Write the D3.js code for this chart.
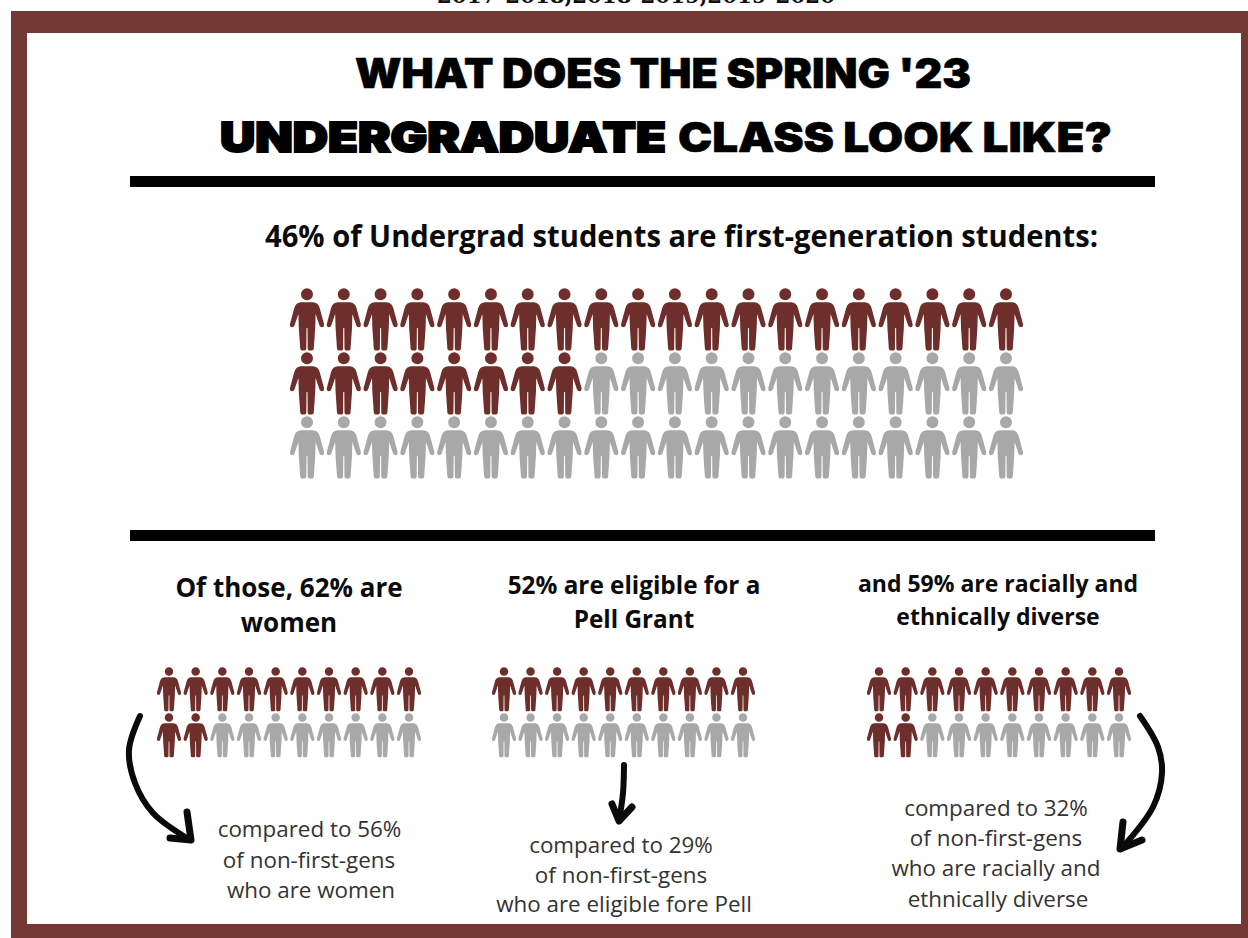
<!DOCTYPE html>
<html>
<head>
<meta charset="utf-8">
<script src="https://cdn.jsdelivr.net/npm/d3@7/dist/d3.min.js"></script>
<style>
  html, body { margin: 0; padding: 0; background: #fff; }
  svg { display: block; }
</style>
</head>
<body>
<svg id="chart" width="1248" height="938"></svg>
<script>
// values
const mainTotal = 60;
const mainFilled = 28;
const womenFilled = 12;
const pellFilled = 10;
const diverseFilled = 12;
const smallTotal = 20;

const cutOffText = "2017-2018,2018-2019,2019-2020";
const titleTop = "WHAT DOES THE SPRING '23";
const titleBold = "UNDERGRADUATE";
const titleRest = "CLASS LOOK LIKE?";
const mainHeading = "46% of Undergrad students are first-generation students:";
const womenHeading = ["Of those, 62% are", "women"];
const pellHeading = ["52% are eligible for a", "Pell Grant"];
const diverseHeading = ["and 59% are racially and", "ethnically diverse"];
const womenNote = ["compared to 56%", "of non-first-gens", "who are women"];
const pellNote = ["compared to 29%", "of non-first-gens", "who are eligible fore Pell"];
const diverseNote = ["compared to 32%", "of non-first-gens", "who are racially and", "ethnically diverse"];

const maroon = "#6e2e2b";
const grey = "#a8a8a8";
const frame = "#733935";

const svg = d3.select("#chart");

// frame
svg.append("rect").attr("x", 11).attr("y", 11).attr("width", 1237).attr("height", 927).attr("fill", frame);
svg.append("rect").attr("x", 27).attr("y", 33).attr("width", 1214).attr("height", 891).attr("fill", "#fff");

// this line is cut by the top edge in the original too
svg.append("text").text(cutOffText)
  .attr("x", 437).attr("y", 3)
  .attr("textLength", 398).attr("lengthAdjust", "spacingAndGlyphs")
  .attr("font-family", "'DejaVu Serif'").attr("font-weight", 700).attr("font-size", 21).attr("fill", "#111");

// title
function titleText(str, x, y, width, stroke) {
  svg.append("text").text(str)
    .attr("x", x).attr("y", y)
    .attr("textLength", width).attr("lengthAdjust", "spacingAndGlyphs")
    .attr("font-family", "Inter, Roboto").attr("font-weight", 900).attr("font-size", 41)
    .attr("stroke", "#000").attr("stroke-width", stroke).attr("fill", "#000");
}
titleText(titleTop, 355, 87.5, 616, 0.6);
titleText(titleBold, 220, 152, 446, 2);
titleText(titleRest, 678, 152, 434, 0.6);

// rules
[176, 530].forEach(y => {
  svg.append("rect").attr("x", 130).attr("y", y).attr("width", 1025).attr("height", 11).attr("fill", "#000");
});

svg.append("text").text(mainHeading)
  .attr("x", 265).attr("y", 247)
  .attr("textLength", 833).attr("lengthAdjust", "spacingAndGlyphs")
  .attr("font-family", "'Open Sans'").attr("font-weight", 700).attr("font-size", 30).attr("fill", "#0b0b0b");

// person icon, 34 wide and 63 tall, origin top centre
const personPath =
  "M-6,14.3 L6,14.3 Q11,14.5 12.7,20 L17,36 Q17.5,39 15,39.3 Q13,39.3 12.5,37.5 L8.6,26 " +
  "L8.2,40 L6.8,60.5 Q6.6,62.4 5,62.4 L2.2,62.4 Q0.8,62.4 0.7,60.5 L0.5,40 L-0.5,40 L-0.7,60.5 Q-0.8,62.4 -2.2,62.4 L-5,62.4 " +
  "Q-6.6,62.4 -6.8,60.5 L-8.2,40 L-8.6,26 L-12.5,37.5 Q-13,39.3 -15,39.3 Q-17.5,39 -17,36 L-12.7,20 Q-11,14.5 -6,14.3 Z " +
  "M6,6.2 A6,6 0 1 1 -6,6.2 A6,6 0 1 1 6,6.2 Z";

// draws one waffle of people, row by row
function drawPeople(opts) {
  const perRow = opts.total / opts.rows;
  const x = d3.scalePoint().domain(d3.range(perRow)).range([opts.x0, opts.x1]);
  const y = d3.scalePoint().domain(d3.range(opts.rows)).range([opts.y0, opts.y1]);
  svg.append("g").selectAll("path")
    .data(d3.range(opts.total))
    .join("path")
    .attr("d", personPath)
    .attr("transform", i => `translate(${x(i % perRow)},${y(Math.floor(i / perRow))}) scale(${opts.scale})`)
    .attr("fill", i => i < opts.filled ? maroon : grey);
}

drawPeople({ total: mainTotal, rows: 3, filled: mainFilled, x0: 307, x1: 1006, y0: 288, y1: 416, scale: 1 });
drawPeople({ total: smallTotal, rows: 2, filled: womenFilled, x0: 169, x1: 409, y0: 667, y1: 713, scale: 0.71 });
drawPeople({ total: smallTotal, rows: 2, filled: pellFilled, x0: 504, x1: 743, y0: 667, y1: 713, scale: 0.71 });
drawPeople({ total: smallTotal, rows: 2, filled: diverseFilled, x0: 879, x1: 1119, y0: 667, y1: 713, scale: 0.71 });

function drawLines(lines, items) {
  lines.forEach((line, i) => {
    svg.append("text").text(line)
      .attr("x", items.x[i]).attr("y", items.y[i]).attr("text-anchor", "middle")
      .attr("font-family", "'Open Sans'").attr("font-weight", items.weight).attr("font-size", items.size)
      .attr("fill", items.color);
  });
}

drawLines(womenHeading, { x: [289, 289], y: [597, 632], size: 26, weight: 700, color: "#0b0b0b" });
drawLines(pellHeading, { x: [634, 634], y: [594, 628], size: 24.3, weight: 700, color: "#0b0b0b" });
drawLines(diverseHeading, { x: [998, 998], y: [592, 625], size: 23, weight: 700, color: "#0b0b0b" });

drawLines(womenNote, { x: [309.5, 309, 311], y: [837, 868, 898], size: 22.4, weight: 400, color: "#333" });
drawLines(pellNote, { x: [621, 621, 624], y: [853, 883, 912], size: 22.4, weight: 400, color: "#333" });
drawLines(diverseNote, { x: [996, 996, 996, 998], y: [816, 846, 876, 907], size: 22.4, weight: 400, color: "#333" });

// hand drawn arrows
const arrowLine = d3.line().curve(d3.curveCatmullRom);
function drawArrow(shaft, head) {
  svg.append("path").attr("d", arrowLine(shaft)).attr("fill", "none")
    .attr("stroke", "#0a0a0a").attr("stroke-width", 6).attr("stroke-linecap", "round");
  svg.append("path").attr("d", d3.line()(head)).attr("fill", "none")
    .attr("stroke", "#0a0a0a").attr("stroke-width", 7).attr("stroke-linecap", "round").attr("stroke-linejoin", "round");
}
drawArrow([[140, 716], [129, 750], [135, 783], [153, 813], [190, 840]], [[187, 812], [191, 840], [170, 838]]);
drawArrow([[624, 765], [623, 793], [619, 821]], [[612, 804], [619, 821], [632, 807]]);
drawArrow([[1140, 716], [1158, 747], [1162, 773], [1153, 807], [1121, 849]], [[1123, 822], [1120, 849], [1142, 840]]);
</script>
</body>
</html>
